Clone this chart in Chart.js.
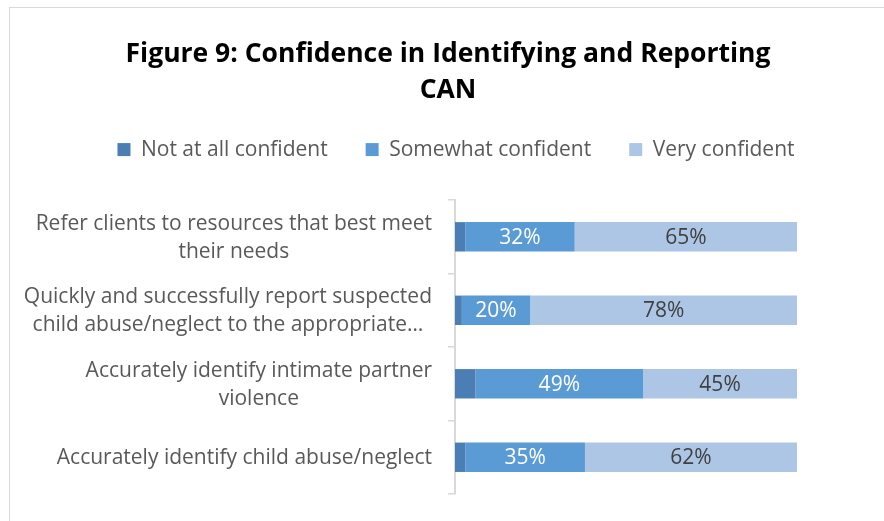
<!DOCTYPE html>
<html>
<head>
<meta charset="utf-8">
<script src="https://cdn.jsdelivr.net/npm/chart.js@4/dist/chart.umd.min.js"></script>
<style>
  html, body { margin: 0; padding: 0; background: #ffffff; }
  #wrap { position: relative; width: 884px; height: 521px; overflow: hidden; }
  #frame { position: absolute; left: 9px; top: 7px; width: 900px; height: 540px;
           border: 1.5px solid #d9d9d9; box-sizing: border-box; }
  #chart { position: absolute; left: 0; top: 0; }
</style>
</head>
<body>
<div id="wrap">
  <div id="frame"></div>
  <canvas id="chart" width="884" height="521"></canvas>
</div>
<script>
// Survey items, each split into the lines it is printed on
const categoryLines = [
  ['Refer clients to resources that best meet', 'their needs'],
  ['Quickly and successfully report suspected', 'child abuse/neglect to the appropriate…'],
  ['Accurately identify intimate partner', 'violence'],
  ['Accurately identify child abuse/neglect']
];
const seriesNames = ['Not at all confident', 'Somewhat confident', 'Very confident'];

// Percent of respondents per item
const notAtAllConfident = [3, 2, 6, 3];
const somewhatConfident = [32, 20, 49, 35];
const veryConfident     = [65, 78, 45, 62];

const titleLines = ['Figure 9: Confidence in Identifying and Reporting', 'CAN'];

const FONT = '"Open Sans", Lato, sans-serif';

// Multi-line category labels, each block centred on itself and right-aligned to the axis
const categoryLabelPlugin = {
  id: 'categoryLabels',
  afterDraw(chart) {
    const ys = chart.scales.y;
    const ctx = chart.ctx;
    ctx.save();
    ctx.font = '21px ' + FONT;
    ctx.fillStyle = '#595959';
    ctx.textAlign = 'center';
    ctx.textBaseline = 'middle';
    const lineH = 28;
    const rightEdge = ys.right - 23;
    categoryLines.forEach((lines, i) => {
      const cy = ys.getPixelForValue(i) + 1;
      const w = Math.max(...lines.map(l => ctx.measureText(l).width));
      const cx = rightEdge - w / 2;
      const y0 = cy - (lines.length - 1) * lineH / 2;
      lines.forEach((l, k) => ctx.fillText(l, cx, y0 + k * lineH));
    });
    ctx.restore();
  }
};

// Percent labels inside the "somewhat" and "very" segments
const valueLabelPlugin = {
  id: 'valueLabels',
  afterDatasetsDraw(chart) {
    const ctx = chart.ctx;
    ctx.save();
    ctx.font = '21px ' + FONT;
    ctx.textAlign = 'center';
    ctx.textBaseline = 'middle';
    [1, 2].forEach(di => {
      const meta = chart.getDatasetMeta(di);
      const data = chart.data.datasets[di].data;
      ctx.fillStyle = di === 1 ? '#ffffff' : '#404040';
      meta.data.forEach((bar, i) => {
        const x = (bar.x + bar.base) / 2;
        ctx.fillText(data[i] + '%', x, bar.y + 1);
      });
    });
    ctx.restore();
  }
};

// Nudge the legend row a little to the right of the title's centre line
const legendOffsetPlugin = {
  id: 'legendOffset',
  afterLayout(chart) {
    const lg = chart.legend;
    if (lg) { lg.left += 8; lg.right += 8; }
  }
};

new Chart(document.getElementById('chart'), {
  type: 'bar',
  data: {
    labels: categoryLines.map(l => l.join(' ')),
    datasets: [
      { label: seriesNames[0], data: notAtAllConfident, backgroundColor: '#4a7eb4' },
      { label: seriesNames[1], data: somewhatConfident, backgroundColor: '#5b9bd5' },
      { label: seriesNames[2], data: veryConfident,     backgroundColor: '#adc6e6' }
    ]
  },
  options: {
    indexAxis: 'y',
    responsive: false,
    animation: false,
    events: [],
    datasets: { bar: { categoryPercentage: 1, barPercentage: 0.4, borderWidth: 0 } },
    layout: { padding: { left: 12, right: 0, top: 0, bottom: 27 } },
    scales: {
      y: {
        type: 'category',
        position: 'left',
        stacked: true,
        afterFit(s) { s.width = 443; },
        ticks: { display: false },
        grid: { display: true, drawOnChartArea: false, drawTicks: true, tickLength: 7,
                color: '#d9d9d9', lineWidth: 1.5, offset: true },
        border: { display: true, color: '#d9d9d9', width: 2 }
      },
      yRight: {
        type: 'category',
        axis: 'y',
        position: 'right',
        afterFit(s) { s.width = 87; },
        ticks: { display: false },
        grid: { display: false },
        border: { display: false }
      },
      x: {
        type: 'linear',
        position: 'top',
        stacked: true,
        min: 0,
        max: 100,
        afterFit(s) { s.height = 30; },
        ticks: { display: false },
        grid: { display: false },
        border: { display: false }
      }
    },
    plugins: {
      tooltip: { enabled: false },
      title: {
        display: true,
        text: titleLines,
        color: '#000000',
        font: { family: FONT, size: 26.5, weight: 'bold', lineHeight: 1.36 },
        padding: { top: 36, bottom: -7 }
      },
      legend: {
        display: true,
        position: 'top',
        labels: {
          boxWidth: 13,
          boxHeight: 13,
          color: '#595959',
          font: { family: FONT, size: 21 },
          padding: 38
        }
      }
    }
  },
  plugins: [categoryLabelPlugin, valueLabelPlugin, legendOffsetPlugin]
});
</script>
</body>
</html>
